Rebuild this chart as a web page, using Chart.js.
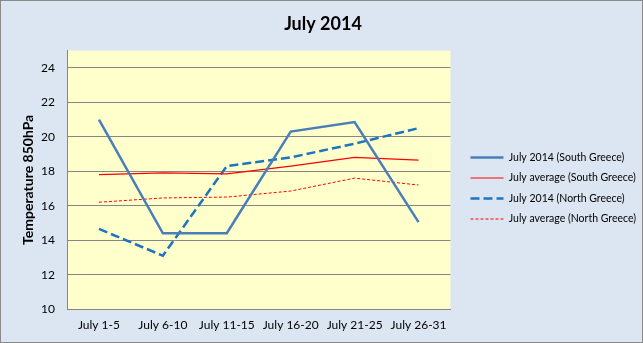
<!DOCTYPE html>
<html>
<head>
<meta charset="utf-8">
<script src="https://cdn.jsdelivr.net/npm/chart.js@4"></script>
<style>
  html, body { margin: 0; padding: 0; background: #dce6f2; }
  #wrap { width: 643px; height: 343px; }
</style>
</head>
<body>
<div id="wrap"><canvas id="julyChart" width="643" height="343"></canvas></div>
<script>
// periods of July 2014
const periods = ['July 1-5', 'July 6-10', 'July 11-15', 'July 16-20', 'July 21-25', 'July 26-31'];
// temperature at 850hPa
const southJuly2014 = [21.0, 14.4, 14.4, 20.3, 20.85, 15.05];
const southAverage = [17.8, 17.9, 17.85, 18.3, 18.8, 18.65];
const northJuly2014 = [14.65, 13.1, 18.3, 18.8, 19.6, 20.5];
const northAverage = [16.2, 16.45, 16.5, 16.85, 17.6, 17.2];

const fontName = 'Lato, "Open Sans", sans-serif';

//background of the whole chart and of the plot area
const backgroundPlugin = {
  id: 'backgrounds',
  beforeDraw(chart) {
    const ctx = chart.ctx;
    const a = chart.chartArea;
    ctx.save();
    ctx.fillStyle = '#dce6f2';
    ctx.fillRect(0, 0, chart.width, chart.height);
    ctx.strokeStyle = '#8a8a8a';
    ctx.lineWidth = 1;
    ctx.strokeRect(0.5, 0.5, chart.width - 1, chart.height - 1);
    ctx.fillStyle = '#ffffcc';
    ctx.fillRect(a.left, a.top, a.right - a.left, a.bottom - a.top);
    ctx.restore();
  }
};

//legend samples as lines, keeping the dash of each dataset
function lineLabels(chart) {
  const items = Chart.defaults.plugins.legend.labels.generateLabels(chart);
  items.forEach(item => {
    const ds = chart.data.datasets[item.datasetIndex];
    item.lineDash = ds.borderDash || [];
    item.lineWidth = ds.borderWidth;
    item.strokeStyle = ds.borderColor;
    item.pointStyle = 'line';
  });
  return items;
}

const ctx = document.getElementById('julyChart').getContext('2d');
const chart = new Chart(ctx, {
  type: 'line',
  data: {
    labels: periods,
    datasets: [
      { label: 'July 2014 (South Greece)', data: southJuly2014, borderColor: '#4a7ebb', backgroundColor: '#4a7ebb', borderWidth: 2.5 },
      { label: 'July average (South Greece)', data: southAverage, borderColor: '#ff0000', backgroundColor: '#ff0000', borderWidth: 1.2 },
      { label: 'July 2014 (North Greece)', data: northJuly2014, borderColor: '#1f74c0', backgroundColor: '#1f74c0', borderWidth: 2.5, borderDash: [9, 4] },
      { label: 'July average (North Greece)', data: northAverage, borderColor: '#ff0000', backgroundColor: '#ff0000', borderWidth: 1, borderDash: [3, 2] }
    ]
  },
  options: {
    responsive: false,
    animation: false,
    layout: { padding: { left: 0, right: -3, top: 0, bottom: 1.5 } },
    elements: {
      point: { radius: 0, hoverRadius: 0, pointStyle: 'line' },
      line: { tension: 0, borderCapStyle: 'butt' }
    },
    scales: {
      x: {
        offset: true,
        grid: { display: false, drawTicks: false },
        border: { color: '#868686', width: 1 },
        ticks: { color: '#000', font: { family: fontName, size: 12 }, padding: 9, maxRotation: 0 }
      },
      y: {
        min: 10,
        max: 25,
        afterFit(scale) { scale.width = 67; },
        grid: { color: '#868686', drawTicks: false },
        border: { color: '#868686', width: 1 },
        ticks: { stepSize: 2, includeBounds: false, color: '#000', font: { family: fontName, size: 12 }, padding: 12 },
        title: {
          display: true,
          text: 'Temperature 850hPa',
          color: '#000',
          font: { family: fontName, size: 14, weight: 'bold' },
          padding: { top: 20, bottom: 0 }
        }
      },
      //empty axis on the right, only a gap before the legend
      gap: {
        type: 'linear',
        position: 'right',
        afterFit(scale) { scale.width = 10; },
        grid: { display: false, drawTicks: false },
        border: { display: false },
        ticks: { display: false }
      }
    },
    plugins: {
      title: {
        display: true,
        text: 'July 2014',
        color: '#000',
        font: { family: fontName, size: 18, weight: 'bold' },
        padding: { top: 13, bottom: 16 }
      },
      legend: {
        position: 'right',
        maxWidth: 220,
        title: { display: true, text: ' ', font: { size: 10 }, padding: { top: 0, bottom: 23 } },
        labels: {
          color: '#000',
          font: { family: fontName, size: 10.5 },
          usePointStyle: true,
          pointStyle: 'line',
          pointStyleWidth: 33,
          boxWidth: 33,
          boxHeight: 8,
          padding: 10,
          generateLabels: lineLabels
        }
      },
      tooltip: { enabled: false }
    }
  },
  plugins: [backgroundPlugin]
});
</script>
</body>
</html>
